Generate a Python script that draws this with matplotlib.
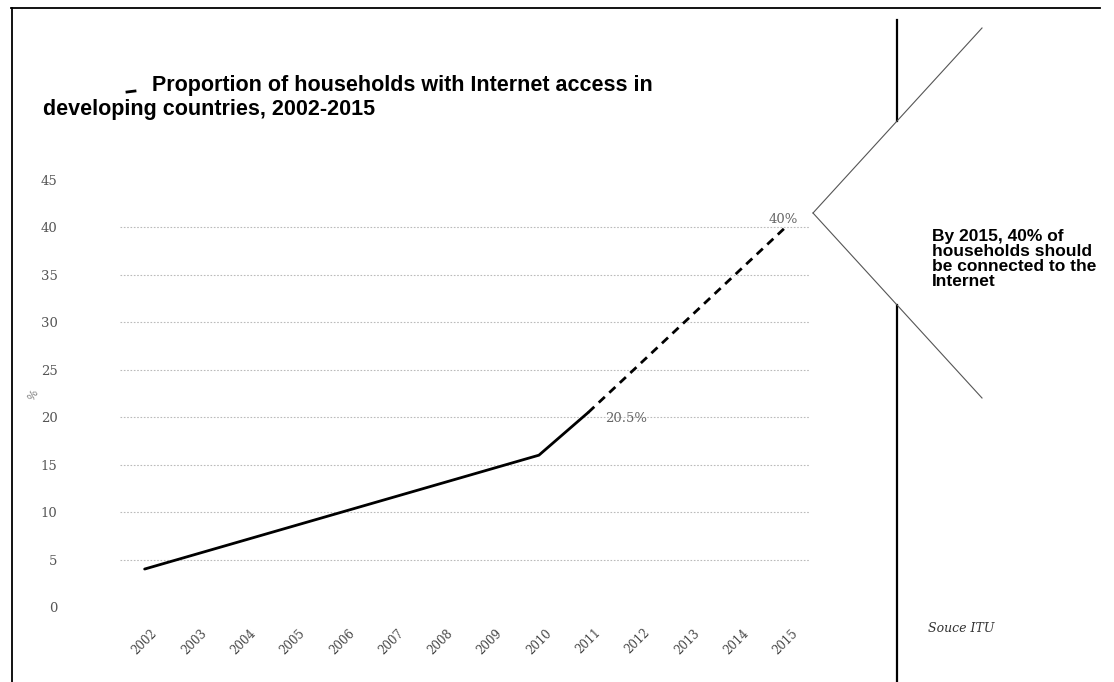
import matplotlib
matplotlib.use("Agg")
import matplotlib.pyplot as plt
from matplotlib.lines import Line2D

plt.rcParams['font.family'] = ['Liberation Sans', 'DejaVu Sans']

years = list(range(2002, 2016))
actual_years = [2002, 2003, 2004, 2005, 2006, 2007, 2008, 2009, 2010, 2011]
actual_vals = [4.0, 5.5, 7.0, 8.5, 10.0, 11.5, 13.0, 14.5, 16.0, 20.5]
target_years = [2011, 2015]
target_vals = [20.5, 40.0]
yticks = [0, 5, 10, 15, 20, 25, 30, 35, 40, 45]

W, H = 1114, 682
fig = plt.figure(figsize=(W / 100, H / 100), dpi=100)

def fx(x):
    return x / W

def fy(y):
    return 1 - y / H

# axes in pixel coordinates
ax_l, ax_r, ax_t, ax_b = 120, 810, 180, 607
ax = fig.add_axes([fx(ax_l), fy(ax_b), (ax_r - ax_l) / W, (ax_b - ax_t) / H])
ax.set_xlim(2001.5, 2015.5)
ax.set_ylim(0, 45)

ax.plot(actual_years, actual_vals, color='black', lw=2.0, solid_capstyle='round')
ax.plot(target_years, target_vals, color='black', lw=2.0, ls=(0, (3, 2.2)))

ax.text(actual_years[-1] + 0.35, actual_vals[-1] - 0.6, f"{actual_vals[-1]}%",
        fontsize=9.5, color='#666666', va='center', ha='left', family='DejaVu Serif')
ax.text(target_years[-1] - 0.35, target_vals[-1] + 0.2, f"{int(target_vals[-1])}%",
        fontsize=9.5, color='#666666', va='bottom', ha='left', family='DejaVu Serif')

ax.set_yticks(yticks)
ax.set_yticklabels([str(v) for v in yticks], fontsize=9.5, color='#555555',
                   family='DejaVu Serif')
ax.set_xticks(years)
ax.set_xticklabels([str(y) for y in years], rotation=45, fontsize=8.5,
                   color='#444444', ha='center', va='top', family='DejaVu Serif')
ax.tick_params(axis='y', length=0, pad=45)
ax.tick_params(axis='x', length=0, pad=14)

ax.grid(axis='y', color='#bbbbbb', ls=(0, (1.5, 1.5)), lw=0.8)
ax.grid(axis='x', visible=False)
glines = ax.get_ygridlines()
glines[0].set_visible(False)
glines[-1].set_visible(False)
for s in ax.spines.values():
    s.set_visible(False)
ax.set_facecolor('none')

ax.set_ylabel('%', rotation=60, fontsize=8, color='#777777')
ax.yaxis.set_label_coords((38 - ax_l) / (ax_r - ax_l), (ax_b - 398) / (ax_b - ax_t))

# title
fig.text(fx(152), fy(91), "Proportion of households with Internet access in",
         fontsize=15.5, fontweight='bold', va='baseline', ha='left')
fig.text(fx(43), fy(115), "developing countries, 2002-2015",
         fontsize=15.5, fontweight='bold', va='baseline', ha='left')

# frame lines
def fline(x0, y0, x1, y1, lw=1.2, color='black'):
    fig.add_artist(Line2D([fx(x0), fx(x1)], [fy(y0), fy(y1)], lw=lw, color=color,
                          transform=fig.transFigure))

fline(127, 92, 135, 91, lw=2.0)  # small stray mark before the title
fline(12, 8, 12, 682, lw=1.3)
fline(11, 8, 1100, 8, lw=1.3)
fline(897, 20, 897, 121, lw=1.6)
fline(897, 305, 897, 682, lw=1.6)
fline(813, 213, 982, 28, lw=0.8, color='#555555')
fline(813, 213, 982, 398, lw=0.8, color='#555555')

fig.text(fx(932), fy(259), "By 2015, 40% of\nhouseholds should\nbe connected to the\nInternet",
         fontsize=12.5, fontweight='bold', va='center', ha='left', linespacing=1.0)
fig.text(fx(928), fy(628), "Souce ITU", fontsize=9, fontstyle='italic',
         family='DejaVu Serif', va='center', ha='left', color='#333333')

fig.savefig("out.png", dpi=100, facecolor='white')
